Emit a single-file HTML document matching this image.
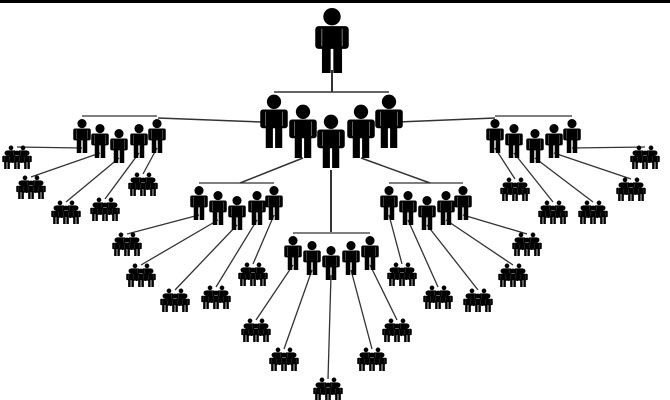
<!DOCTYPE html><html><head><style>body{margin:0;background:#fff}svg{display:block}</style></head><body>
<svg id="s" width="670" height="400" viewBox="0 0 670 400" xmlns="http://www.w3.org/2000/svg">
<rect x="0" y="0" width="670" height="3" fill="#000"/>
</svg>
<script>
const s=document.getElementById('s');let out='';
function P(cx,top,h){const k=h/100,x=cx-25*k;
out+=`<g fill="#000" transform="translate(${x},${top}) scale(${k})"><circle cx="25" cy="16" r="13"/><rect x="0" y="30" width="50" height="34" rx="5"/><rect x="10" y="58" width="13" height="42"/><rect x="27" y="58" width="13" height="42"/><rect x="9" y="34" width="1.5" height="26" fill="#777"/><rect x="39.5" y="34" width="1.5" height="26" fill="#777"/></g>`;}
function L(a,b,c,d,w){out+=`<line x1="${a}" y1="${b}" x2="${c}" y2="${d}" stroke="#333" stroke-width="${w||1.5}"/>`;}
function C(cx,top){P(cx-6,top,18);P(cx+6,top,18);P(cx-10,top+5,19);P(cx,top+5,19);P(cx+10,top+5,19);}
function G(xs,line,h,ys){L(xs[0],line,xs[4],line,1.2);xs.forEach((x,i)=>P(x,line+ys[i],h));}
L(332,70,332,92,2);P(332,6,67);
L(274,92,389,92,1.5);
L(262,122,158,118);L(398,122,495,118);L(303,158,240,183);L(361,158,430,183);L(331,170,331,232,2);
const g3=[[[82,100,119,139,157],116],[[495,514,535,554,572],116],[[199,218,237,257,274],183],[[389,408,427,446,463],183],[[293,312,331,351,370],233]];
const cl=[[[17,145],[31,175],[66,200],[105,197],[143,172]],[[515,177],[553,200],[593,200],[631,177],[645,145]],[[127,232],[141,263],[175,288],[216,285],[253,262]],[[402,262],[438,285],[478,288],[513,263],[527,232]],[[256,318],[284,347],[328,377],[372,347],[397,318]]];
g3.forEach((g,gi)=>{const xs=g[0],ln=g[1];const ys=[2,7,12,7,2];
xs.forEach((x,i)=>{const [cx,ct]=cl[gi][i];const by=ln+ys[i]+30;L(x,by,cx,ct+2,1.3);C(cx,ct);});
});
g3.forEach(g=>G(g[0],g[1],35,[2,7,12,7,2]));
[[274,93],[303,103],[331,113],[361,103],[389,93]].forEach(p=>P(p[0],p[1],55));
s.insertAdjacentHTML('beforeend',out);
</script>
</body></html>
